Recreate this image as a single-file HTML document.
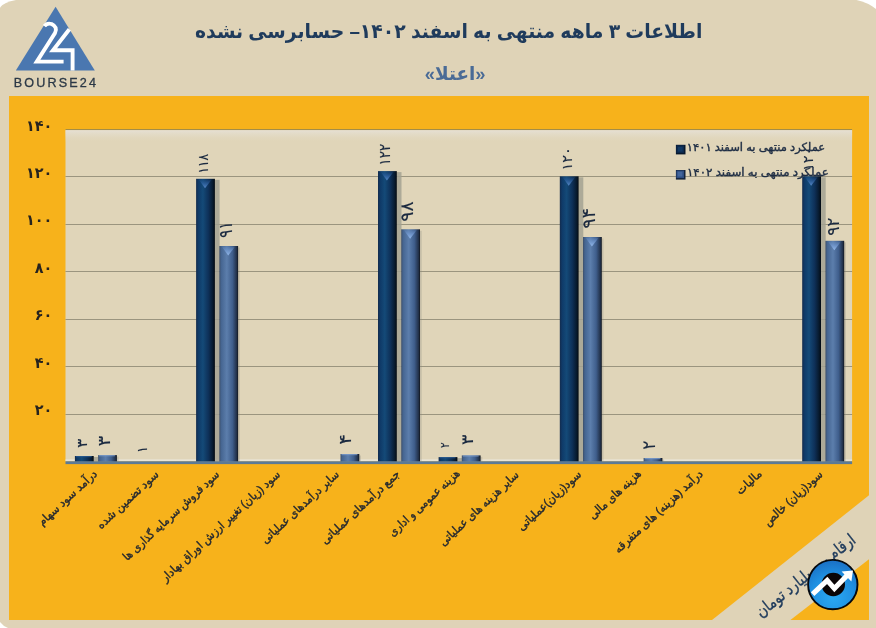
<!DOCTYPE html>
<html lang="fa"><head><meta charset="utf-8"><title>اعتلا</title>
<style>html,body{margin:0;padding:0;background:#fff;overflow:hidden}svg{display:block}text{font-family:"Liberation Sans", "DejaVu Sans", sans-serif}</style>
</head><body>
<svg width="876" height="628" viewBox="0 0 876 628">
<defs>
<linearGradient id="gd" x1="0" y1="0" x2="1" y2="0">
 <stop offset="0" stop-color="#142B4C"/><stop offset="0.12" stop-color="#0F3A68"/><stop offset="0.36" stop-color="#144A78"/><stop offset="0.66" stop-color="#0E3058"/><stop offset="0.9" stop-color="#07192C"/><stop offset="1" stop-color="#03090F"/>
</linearGradient>
<linearGradient id="gl" x1="0" y1="0" x2="1" y2="0">
 <stop offset="0" stop-color="#3E4F68"/><stop offset="0.1" stop-color="#456591"/><stop offset="0.4" stop-color="#5C7EAC"/><stop offset="0.7" stop-color="#3F5E8C"/><stop offset="0.92" stop-color="#22314A"/><stop offset="1" stop-color="#11161D"/>
</linearGradient>
<linearGradient id="vd" x1="0" y1="0" x2="0" y2="1">
 <stop offset="0" stop-color="#2E5E9C" stop-opacity="0.1"/><stop offset="0.4" stop-color="#3366A8" stop-opacity="0.6"/><stop offset="1" stop-color="#5A8CCB" stop-opacity="1"/>
</linearGradient>
<linearGradient id="vl" x1="0" y1="0" x2="0" y2="1">
 <stop offset="0" stop-color="#6E95CC" stop-opacity="0.15"/><stop offset="0.4" stop-color="#759CD4" stop-opacity="0.65"/><stop offset="1" stop-color="#95BAEC" stop-opacity="1"/>
</linearGradient>
<linearGradient id="ph" x1="0" y1="0" x2="0" y2="1">
 <stop offset="0" stop-color="#E6E0D6" stop-opacity="0.9"/><stop offset="0.4" stop-color="#E4DDCB" stop-opacity="0.6"/><stop offset="1" stop-color="#E0D5B9" stop-opacity="0"/>
</linearGradient>
<radialGradient id="lg" cx="0.5" cy="0.75" r="0.75">
 <stop offset="0" stop-color="#2AA8F2"/><stop offset="0.6" stop-color="#1F8FE0"/><stop offset="1" stop-color="#1A6FC4"/>
</radialGradient>
</defs>
<rect width="876" height="628" fill="#fff"/>
<path d="M16 0 H856.5 Q868 2.5 876 9 V628 H8 Q3 626 0 622 V7.5 Q4 2 16 0 Z" fill="#DFD3B7"/>
<rect x="9" y="96" width="860" height="524" fill="#F7B21B"/>
<polygon points="712,620 869,495.3 869,559.2 790.4,620" fill="#DFD3B7"/>
<rect x="65.5" y="129.6" width="786.6" height="331.7" fill="#E0D5B9"/>
<rect x="65.5" y="130.4" width="786.6" height="12" fill="url(#ph)"/>
<rect x="65.5" y="459.3" width="786.6" height="2" fill="#ECE8DE" opacity="0.75"/>
<rect x="65.5" y="129.00" width="786.6" height="1" fill="#9B8744" opacity="0.9"/>
<rect x="65.5" y="176.00" width="786.6" height="1" fill="#7E7966" opacity="0.7"/>
<rect x="65.5" y="224.00" width="786.6" height="1" fill="#7E7966" opacity="0.7"/>
<rect x="65.5" y="271.00" width="786.6" height="1" fill="#7E7966" opacity="0.7"/>
<rect x="65.5" y="319.00" width="786.6" height="1" fill="#7E7966" opacity="0.7"/>
<rect x="65.5" y="366.00" width="786.6" height="1" fill="#7E7966" opacity="0.7"/>
<rect x="65.5" y="414.00" width="786.6" height="1" fill="#7E7966" opacity="0.7"/>
<text id="y0" transform="translate(52.40,130.50) scale(0.9600,1)" text-anchor="end" direction="ltr" font-size="15.00" fill="#26231F" font-weight="bold">۱۴۰</text>
<text id="y1" transform="translate(52.40,177.93) scale(0.9600,1)" text-anchor="end" direction="ltr" font-size="15.00" fill="#26231F" font-weight="bold">۱۲۰</text>
<text id="y2" transform="translate(52.40,225.36) scale(0.9600,1)" text-anchor="end" direction="ltr" font-size="15.00" fill="#26231F" font-weight="bold">۱۰۰</text>
<text id="y3" transform="translate(52.40,272.79) scale(0.9600,1)" text-anchor="end" direction="ltr" font-size="15.00" fill="#26231F" font-weight="bold">۸۰</text>
<text id="y4" transform="translate(52.40,320.21) scale(0.9600,1)" text-anchor="end" direction="ltr" font-size="15.00" fill="#26231F" font-weight="bold">۶۰</text>
<text id="y5" transform="translate(52.40,367.64) scale(0.9600,1)" text-anchor="end" direction="ltr" font-size="15.00" fill="#26231F" font-weight="bold">۴۰</text>
<text id="y6" transform="translate(52.40,415.07) scale(0.9600,1)" text-anchor="end" direction="ltr" font-size="15.00" fill="#26231F" font-weight="bold">۲۰</text>
<rect x="93.2" y="457.0" width="5.2" height="4.3" fill="#A3A292" opacity="0.85"/>
<rect x="74.9" y="456.0" width="18.8" height="5.8" fill="url(#gd)"/>
<rect x="75.9" y="456.0" width="15.8" height="1.2" fill="#2C5C96" opacity="0.7"/>
<rect x="116.4" y="456.6" width="2.2" height="4.7" fill="#8C8A80" opacity="0.3"/>
<rect x="98.1" y="455.1" width="18.8" height="6.7" fill="url(#gl)"/>
<rect x="99.1" y="455.1" width="15.8" height="1.2" fill="#7FA0D0" opacity="0.7"/>
<text id="v0" transform="translate(86.57,447.95) rotate(-90) scale(1.2709,1)" text-anchor="start" direction="ltr" font-size="13.85" fill="#1B2A40" stroke="#1B2A40" stroke-width="0.12">۳</text>
<text id="v1" transform="translate(110.07,446.47) rotate(-90) scale(1.1702,1)" text-anchor="start" direction="ltr" font-size="17.26" fill="#1B2A40" stroke="#1B2A40" stroke-width="0.12">۳</text>
<text id="v2" transform="translate(147.49,453.09) rotate(-90) scale(0.9086,1)" text-anchor="start" direction="ltr" font-size="14.44" fill="#1B2A40" stroke="#1B2A40" stroke-width="0.12">۱</text>
<rect x="214.4" y="179.8" width="5.2" height="281.5" fill="#A3A292" opacity="0.85"/>
<rect x="196.1" y="178.8" width="18.8" height="283.0" fill="url(#gd)"/>
<polygon points="198.6,179.3 211.9,179.3 205.0,188.3" fill="url(#vd)"/>
<rect x="237.6" y="247.5" width="2.2" height="213.8" fill="#8C8A80" opacity="0.3"/>
<rect x="219.3" y="246.0" width="18.8" height="215.8" fill="url(#gl)"/>
<polygon points="221.8,246.5 235.1,246.5 228.2,255.5" fill="url(#vl)"/>
<text id="v3" transform="translate(207.62,173.42) rotate(-90) scale(0.8789,1)" text-anchor="start" direction="ltr" font-size="13.79" fill="#1B2A40" stroke="#1B2A40" stroke-width="0.12">۱۱۸</text>
<text id="v4" transform="translate(231.78,238.12) rotate(-90) scale(0.8327,1)" text-anchor="start" direction="ltr" font-size="18.79" fill="#1B2A40" stroke="#1B2A40" stroke-width="0.12">۹۱</text>
<rect x="358.8" y="455.5" width="2.2" height="5.8" fill="#8C8A80" opacity="0.3"/>
<rect x="340.5" y="454.0" width="18.8" height="7.8" fill="url(#gl)"/>
<rect x="341.5" y="454.0" width="15.8" height="1.2" fill="#7FA0D0" opacity="0.7"/>
<text id="v5" transform="translate(351.48,444.74) rotate(-90) scale(1.1767,1)" text-anchor="start" direction="ltr" font-size="17.24" fill="#1B2A40" stroke="#1B2A40" stroke-width="0.12">۴</text>
<rect x="396.3" y="172.1" width="5.2" height="289.2" fill="#A3A292" opacity="0.85"/>
<rect x="378.0" y="171.1" width="18.8" height="290.7" fill="url(#gd)"/>
<polygon points="380.5,171.6 393.8,171.6 386.9,180.6" fill="url(#vd)"/>
<rect x="419.5" y="230.8" width="2.2" height="230.5" fill="#8C8A80" opacity="0.3"/>
<rect x="401.2" y="229.3" width="18.8" height="232.5" fill="url(#gl)"/>
<polygon points="403.7,229.8 417.0,229.8 410.1,238.8" fill="url(#vl)"/>
<text id="v6" transform="translate(390.19,165.46) rotate(-90) scale(0.8624,1)" text-anchor="start" direction="ltr" font-size="15.51" fill="#1B2A40" stroke="#1B2A40" stroke-width="0.12">۱۲۲</text>
<text id="v7" transform="translate(412.73,221.69) rotate(-90) scale(1.0586,1)" text-anchor="start" direction="ltr" font-size="17.85" fill="#1B2A40" stroke="#1B2A40" stroke-width="0.12">۹۸</text>
<rect x="456.9" y="458.1" width="5.2" height="3.2" fill="#A3A292" opacity="0.85"/>
<rect x="438.6" y="457.1" width="18.8" height="4.7" fill="url(#gd)"/>
<rect x="439.6" y="457.1" width="15.8" height="1.2" fill="#2C5C96" opacity="0.7"/>
<rect x="480.1" y="456.9" width="2.2" height="4.4" fill="#8C8A80" opacity="0.3"/>
<rect x="461.8" y="455.4" width="18.8" height="6.4" fill="url(#gl)"/>
<rect x="462.8" y="455.4" width="15.8" height="1.2" fill="#7FA0D0" opacity="0.7"/>
<text id="v8" transform="translate(449.39,448.08) rotate(-90) scale(0.8033,1)" text-anchor="start" direction="ltr" font-size="12.95" fill="#1B2A40" stroke="#1B2A40" stroke-width="0.12">۲</text>
<text id="v9" transform="translate(473.27,445.22) rotate(-90) scale(1.2195,1)" text-anchor="start" direction="ltr" font-size="16.60" fill="#1B2A40" stroke="#1B2A40" stroke-width="0.12">۳</text>
<rect x="578.1" y="177.3" width="5.2" height="284.0" fill="#A3A292" opacity="0.85"/>
<rect x="559.8" y="176.3" width="18.8" height="285.5" fill="url(#gd)"/>
<polygon points="562.3,176.8 575.6,176.8 568.7,185.8" fill="url(#vd)"/>
<rect x="601.3" y="238.5" width="2.2" height="222.8" fill="#8C8A80" opacity="0.3"/>
<rect x="583.0" y="237.0" width="18.8" height="224.8" fill="url(#gl)"/>
<polygon points="585.5,237.5 598.8,237.5 591.9,246.5" fill="url(#vl)"/>
<text id="v10" transform="translate(572.02,170.52) rotate(-90) scale(1.0038,1)" text-anchor="start" direction="ltr" font-size="14.44" fill="#1B2A40" stroke="#1B2A40" stroke-width="0.12">۱۲۰</text>
<text id="v11" transform="translate(594.87,228.86) rotate(-90) scale(1.0776,1)" text-anchor="start" direction="ltr" font-size="18.08" fill="#1B2A40" stroke="#1B2A40" stroke-width="0.12">۹۴</text>
<rect x="661.9" y="459.5" width="2.2" height="1.8" fill="#8C8A80" opacity="0.3"/>
<rect x="643.6" y="458.0" width="18.8" height="3.8" fill="url(#gl)"/>
<rect x="644.6" y="458.0" width="15.8" height="1.2" fill="#7FA0D0" opacity="0.7"/>
<text id="v12" transform="translate(654.50,449.63) rotate(-90) scale(0.9585,1)" text-anchor="start" direction="ltr" font-size="17.91" fill="#1B2A40" stroke="#1B2A40" stroke-width="0.12">۲</text>
<rect x="820.5" y="177.3" width="5.2" height="284.0" fill="#A3A292" opacity="0.85"/>
<rect x="802.2" y="176.3" width="18.8" height="285.5" fill="url(#gd)"/>
<polygon points="804.7,176.8 818.0,176.8 811.1,185.8" fill="url(#vd)"/>
<rect x="843.7" y="242.3" width="2.2" height="219.0" fill="#8C8A80" opacity="0.3"/>
<rect x="825.4" y="240.8" width="18.8" height="221.0" fill="url(#gl)"/>
<polygon points="827.9,241.3 841.2,241.3 834.3,250.3" fill="url(#vl)"/>
<text id="v13" transform="translate(813.04,170.93) rotate(-90) scale(1.0043,1)" text-anchor="start" direction="ltr" font-size="14.44" fill="#1B2A40" stroke="#1B2A40" stroke-width="0.12">۱۲۰</text>
<text id="v14" transform="translate(838.80,235.80) rotate(-90) scale(0.9883,1)" text-anchor="start" direction="ltr" font-size="17.24" fill="#1B2A40" stroke="#1B2A40" stroke-width="0.12">۹۲</text>
<rect x="65.5" y="461.3" width="786.6" height="2.8" fill="#5B7A97"/>
<text id="c0" transform="translate(97.80,474.80) rotate(-42.8) scale(0.9648,1)" text-anchor="start" direction="rtl" font-size="11.50" fill="#25292F" stroke="#25292F" stroke-width="0.4">درآمد سود سهام</text>
<text id="c1" transform="translate(159.56,475.30) rotate(-42.8) scale(0.9869,1)" text-anchor="start" direction="rtl" font-size="11.50" fill="#25292F" stroke="#25292F" stroke-width="0.4">سود تضمین شده</text>
<text id="c2" transform="translate(220.07,475.30) rotate(-42.8) scale(0.9121,1)" text-anchor="start" direction="rtl" font-size="11.50" fill="#25292F" stroke="#25292F" stroke-width="0.4">سود فروش سرمایه گذاری ها</text>
<text id="c3" transform="translate(280.83,475.30) rotate(-42.8) scale(0.9398,1)" text-anchor="start" direction="rtl" font-size="11.50" fill="#25292F" stroke="#25292F" stroke-width="0.4">سود (زیان) تغییر ارزش اوراق بهادار</text>
<text id="c4" transform="translate(339.83,475.30) rotate(-42.8) scale(0.9170,1)" text-anchor="start" direction="rtl" font-size="11.50" fill="#25292F" stroke="#25292F" stroke-width="0.4">سایر درآمدهای عملیاتی</text>
<text id="c5" transform="translate(400.59,474.80) rotate(-42.8) scale(0.9532,1)" text-anchor="start" direction="rtl" font-size="11.50" fill="#25292F" stroke="#25292F" stroke-width="0.4">جمع درآمدهای عملیاتی</text>
<text id="c6" transform="translate(460.60,474.30) rotate(-42.8) scale(0.9107,1)" text-anchor="start" direction="rtl" font-size="11.50" fill="#25292F" stroke="#25292F" stroke-width="0.4">هزینه عمومی و اداری</text>
<text id="c7" transform="translate(519.61,475.80) rotate(-42.8) scale(0.9190,1)" text-anchor="start" direction="rtl" font-size="11.50" fill="#25292F" stroke="#25292F" stroke-width="0.4">سایر هزینه های عملیاتی</text>
<text id="c8" transform="translate(582.12,475.30) rotate(-42.8) scale(0.9564,1)" text-anchor="start" direction="rtl" font-size="11.50" fill="#25292F" stroke="#25292F" stroke-width="0.4">سود(زیان)عملیاتی</text>
<text id="c9" transform="translate(641.87,474.55) rotate(-42.8) scale(0.9134,1)" text-anchor="start" direction="rtl" font-size="11.50" fill="#25292F" stroke="#25292F" stroke-width="0.4">هزینه های مالی</text>
<text id="c10" transform="translate(703.63,474.80) rotate(-42.8) scale(0.9643,1)" text-anchor="start" direction="rtl" font-size="11.50" fill="#25292F" stroke="#25292F" stroke-width="0.4">درآمد (هزینه) های متفرقه</text>
<text id="c11" transform="translate(762.64,474.55) rotate(-42.8) scale(0.9813,1)" text-anchor="start" direction="rtl" font-size="11.50" fill="#25292F" stroke="#25292F" stroke-width="0.4">مالیات</text>
<text id="c12" transform="translate(823.40,475.30) rotate(-42.8) scale(0.9391,1)" text-anchor="start" direction="rtl" font-size="11.50" fill="#25292F" stroke="#25292F" stroke-width="0.4">سود(زیان) خالص</text>
<rect x="675.9" y="144.8" width="9.6" height="9.6" fill="#08182C"/><rect x="676.4" y="145.3" width="7.6" height="7.6" fill="#0D2A4E"/><rect x="678" y="147" width="4.6" height="4.6" fill="#123964"/>
<rect x="675.9" y="170" width="9.6" height="9.6" fill="#14233A"/><rect x="676.4" y="170.5" width="7.6" height="7.6" fill="#2F4E82"/><rect x="677.6" y="171.7" width="4.8" height="4.8" fill="#44669C"/>
<text id="l0" transform="translate(825.20,150.60) scale(1.0200,1)" text-anchor="start" direction="rtl" font-size="11.30" fill="#1E2D44" stroke="#1E2D44" stroke-width="0.4">عملکرد منتهی به اسفند ۱۴۰۱</text>
<text id="l1" transform="translate(828.80,176.00) scale(1.0460,1)" text-anchor="start" direction="rtl" font-size="11.30" fill="#1E2D44" stroke="#1E2D44" stroke-width="0.4">عملکرد منتهی به اسفند ۱۴۰۲</text>
<text id="t0" transform="translate(702.50,37.70) scale(0.9400,1)" text-anchor="start" direction="rtl" font-size="20.00" fill="#1F3B5C" font-weight="bold">اطلاعات ۳  ماهه منتهی به اسفند ۱۴۰۲– حسابرسی نشده</text>
<text id="t1" transform="translate(485.40,79.90) scale(0.9650,1)" text-anchor="start" direction="rtl" font-size="19.00" fill="#4A6B96" font-weight="bold">«اعتلا»</text>
<polygon points="55.6,6.7 15.8,70.4 94.8,70.4" fill="#4A77B0"/>
<path d="M44.4 26.2 Q47 22.6 51.6 24 Q58 27 55 33 L36.8 61.6 H63.6" fill="none" stroke="#fff" stroke-width="3.9" stroke-linejoin="miter"/>
<path d="M69.4 29.2 L53 50.2 H72.6 V70.4" fill="none" stroke="#fff" stroke-width="3.9" stroke-linejoin="miter"/>
<text id="b24" x="55.9" y="86.5" text-anchor="middle" direction="ltr" font-size="12.6" letter-spacing="2.15" fill="#2B3846" stroke="#2B3846" stroke-width="0.3">BOURSE24</text>
<text id="u0" transform="translate(856.65,541.80) rotate(-38.5) scale(0.8356,1)" text-anchor="start" direction="rtl" font-size="16.50" fill="#1F3B5C" stroke="#1F3B5C" stroke-width="0.35">ارقام به میلیارد تومان</text>
<circle cx="832.8" cy="584.6" r="24.7" fill="url(#lg)" stroke="#05090F" stroke-width="1.9"/>
<circle cx="833.3" cy="584.5" r="11.7" fill="#0A0506"/>
<path d="M812.6 594.2 L827.2 580.4 L834.4 588.6 L847 575.6" fill="none" stroke="#fff" stroke-width="5.1" stroke-linejoin="miter"/>
<polygon points="841.6,571.6 853,570.4 851.4,581.6" fill="#fff"/>
</svg>
</body></html>
